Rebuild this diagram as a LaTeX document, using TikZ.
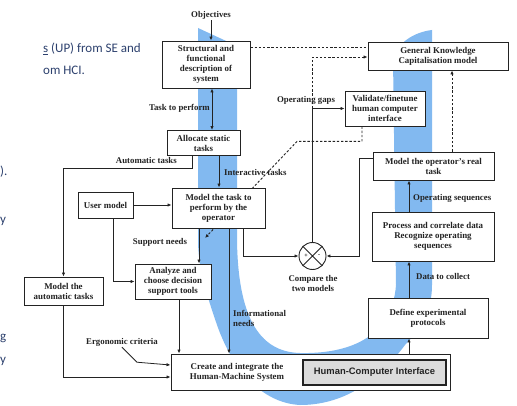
\documentclass[tikz,border=0pt]{standalone}
\usepackage{fontspec}
\setmainfont{Liberation Serif}
\newfontfamily\slidefont{Carlito}
\newfontfamily\hcifont{Liberation Sans}
\usetikzlibrary{arrows.meta,calc}
\definecolor{band}{RGB}{130,185,240}
\definecolor{ink}{RGB}{35,35,35}
\definecolor{slide}{RGB}{45,65,110}
\definecolor{hcigray}{RGB}{220,220,220}
\pgfdeclarelayer{bg}
\pgfsetlayers{bg,main}

\begin{document}
\begin{tikzpicture}[x=1pt,y=-1pt,
  box/.style={draw=ink,line width=0.9pt,fill=white,align=center,inner sep=1pt,
    text=ink,font=\fontsize{8.9}{10}\selectfont\bfseries},
  plain/.style={align=center,inner sep=1pt,text=ink,font=\fontsize{8.9}{10}\selectfont\bfseries},
  lbl/.style={inner sep=1pt,text=ink,font=\fontsize{8.8}{10}\selectfont\bfseries},
  hcibox/.style={draw=ink,line width=1.2pt,fill=hcigray,minimum width=143,minimum height=25,
    inner sep=1pt,text=ink,font=\hcifont\fontsize{9.4}{11}\selectfont\bfseries},
  link/.style={draw=ink,line width=0.8pt},
  arr/.style={link,-{Latex[length=4pt,width=3.4pt]}},
  arrtwo/.style={link,{Latex[length=4pt,width=3.4pt]}-{Latex[length=4pt,width=3.4pt]}},
  dotlink/.style={draw=ink,line width=0.9pt,dash pattern=on 2.4pt off 1.8pt},
  dotarr/.style={dotlink,-{Latex[length=4pt,width=3.4pt]}},
  slidetext/.style={inner sep=0pt,text=slide,font=\slidefont\fontsize{13}{16}\selectfont}
]
\useasboundingbox (0,0) rectangle (517,406);

% page background and blue U-shaped band behind the process
\begin{pgfonlayer}{bg}
\fill[white] (0,0) rectangle (517,406);
\fill[band] (198,28) -- (237,46) -- (237,240)
  .. controls (238,315) and (258,352) .. (300,353)
  .. controls (345,354) and (392,340) .. (396,285)
  -- (393,58) .. controls (398,42) and (415,32) .. (432,30)
  -- (432,285) .. controls (432,312) and (420,330) .. (405,345)
  .. controls (375,385) and (340,405) .. (300,405)
  .. controls (262,403) and (232,370) .. (216,322)
  .. controls (205,290) and (198,265) .. (198,240) -- cycle;
\end{pgfonlayer}

% slide text around the figure
\node[slidetext,anchor=base west] (slideA) at (43,53) {\underline{s} (UP) from SE and};
\node[slidetext,anchor=base west] (slideB) at (43,75) {om HCI.};
\node[slidetext,anchor=base west] (slideC) at (0,176) {).};
\node[slidetext,anchor=base west] (slideD) at (0,224) {y};
\node[slidetext,anchor=base west] (slideE) at (0,341) {g};
\node[slidetext,anchor=base west] (slideF) at (0,363) {y};

% boxes
\node[lbl] (obj) at (211,15) {Objectives};
\node[box,minimum width=88,minimum height=47] (struct) at (206,64.5)
  {Structural and\\functional\\description of\\system};
\node[box,minimum width=73,minimum height=25] (alloc) at (203.5,143) {Allocate static\\tasks};
\node[box,minimum width=93,minimum height=40] (model) at (218.5,208)
  {Model the task to\\perform by the\\operator};
\node[box,minimum width=55,minimum height=26] (user) at (105.5,205) {User model};
\node[box,minimum width=76,minimum height=35] (analyze) at (173,281.5)
  {Analyze and\\choose decision\\support tools};
\node[box,minimum width=79,minimum height=28] (auto) at (63.5,291) {Model the\\automatic tasks};
\node[box,minimum width=279,minimum height=36] (create) at (310.5,372) {};
\node[plain] (createtxt) at (237,372) {Create and integrate the\\Human-Machine System};
\node[hcibox] (hci) at (374.5,372.5) {Human-Computer Interface};
\node[box,minimum width=120,minimum height=40] (define) at (428,318) {Define experimental\\protocols};
\node[box,minimum width=122,minimum height=49] (process) at (433,236.5)
  {Process and correlate data\\Recognize operating\\sequences};
\node[box,minimum width=121,minimum height=28] (real) at (433.5,166) {Model the operator's real\\task};
\node[box,minimum width=140,minimum height=28] (gk) at (438,56) {General Knowledge\\Capitalisation model};
\node[box,minimum width=80,minimum height=35] (validate) at (385,108.5)
  {Validate/finetune\\human computer\\interface};
\node[draw=ink,line width=0.9pt,fill=white,circle,minimum size=27,inner sep=0pt] (cmp) at (312.5,256) {};
\draw[link] (cmp.north west) -- (cmp.south east) (cmp.north east) -- (cmp.south west);
\node[inner sep=0pt,font=\fontsize{6}{6}\selectfont\bfseries] (plus) at ($(cmp.center)+(-6.5,0)$) {+};
\node[inner sep=0pt,font=\fontsize{6}{6}\selectfont\bfseries] (minus) at ($(cmp.center)+(6.5,0)$) {-};

% labels
\node[lbl,anchor=east] (taskperf) at (211,108) {Task to perform};
\node[lbl,anchor=east] (autotasks) at (178,161) {Automatic tasks};
\node[lbl,anchor=west] (inter) at (223,172) {Interactive tasks};
\node[lbl] (support) at (160,242) {Support needs};
\node[lbl,anchor=north west,align=left] (info) at (232,309) {Informational\\needs};
\node[lbl] (ergo) at (122,342) {Ergonomic criteria};
\node[lbl] (gaps) at (306,100) {Operating gaps};
\node[lbl,align=center] (cmplbl) at (313,283) {Compare the\\two models};
\node[lbl,anchor=west] (seq) at (412,198) {Operating sequences};
\node[lbl,anchor=west] (collect) at (415,276) {Data to collect};

% anchor points of the connectors
\coordinate (s1) at ($(struct.south)+(6,0)$);
\coordinate (s2) at ($(struct.north east)+(0,7)$);
\coordinate (al1) at ($(alloc.south)+(-11.5,0)$);
\coordinate (al2) at ($(alloc.south)+(15.5,0)$);
\coordinate (u1) at ($(user.south)+(7.5,0)$);
\coordinate (m1) at ($(model.south)+(-19.5,0)$);
\coordinate (m2) at ($(model.south)+(10.5,0)$);
\coordinate (m3) at ($(model.south)+(24.5,0)$);
\coordinate (a1) at ($(analyze.south)+(6,0)$);
\coordinate (c2) at ($(create.west)+(0,5)$);
\coordinate (c3) at ($(create.west)+(0,-7)$);
\coordinate (d1) at ($(define.south)+(-19,0)$);
\coordinate (d2) at ($(define.north)+(-19,0)$);
\coordinate (p2) at ($(process.north)+(-24,0)$);
\coordinate (r1) at ($(real.west)+(0,-8)$);
\coordinate (r3) at ($(real.north)+(18.5,0)$);
\coordinate (v1) at ($(validate.south)+(-23,0)$);
\coordinate (dashend) at (205,238);
\coordinate (gap) at (cmp.north |- validate.west);

% dashed feedback from validation, passing behind the task model
\begin{pgfonlayer}{bg}
\draw[dotarr] (v1) -- ++(0,15) -- ++(-65,0) -- (dashend);
\end{pgfonlayer}

% connectors
\draw[arr] (obj.south) -- (obj.south |- struct.north);
\draw[arrtwo] (s1) -- (s1 |- alloc.north);
\draw[arr] (al1) -- ++(0,12) -| (auto.north);
\draw[arr] (al2) -- (al2 |- model.north);
\draw[arr] (user.east) -- (user.east -| model.west);
\draw[arr] (u1) |- (analyze.west);
\draw[arr] (m1) -- (m1 |- analyze.north);
\draw[arr] (m2) -- (m2 |- create.north);
\draw[arr] (m3) |- (cmp.west);
\draw[arr] (a1) -- (a1 |- create.north);
\draw[arr] (auto.south) |- (c2);
\draw[arr] (ergo.south) -- ++(15,15) -- (c3);
\draw[arr] (d1 |- create.north) -- (d1);
\draw[arr] (d2) -- (d2 |- process.south);
\draw[arr] (p2) -- (p2 |- real.south);
\draw[arr] (r1) -- ++(-13,0) |- (cmp.east);
\draw[dotarr] (r3) -- (r3 |- gk.south);
\draw[link] (cmp.north) -- (gap);
\draw[arr] (gap) -- (validate.west);
\draw[dotarr] (gap) |- ($(gk.west)+(0,1)$);
\draw[dotlink] (s2) -- (s2 -| gk.west);
\end{tikzpicture}
\end{document}
